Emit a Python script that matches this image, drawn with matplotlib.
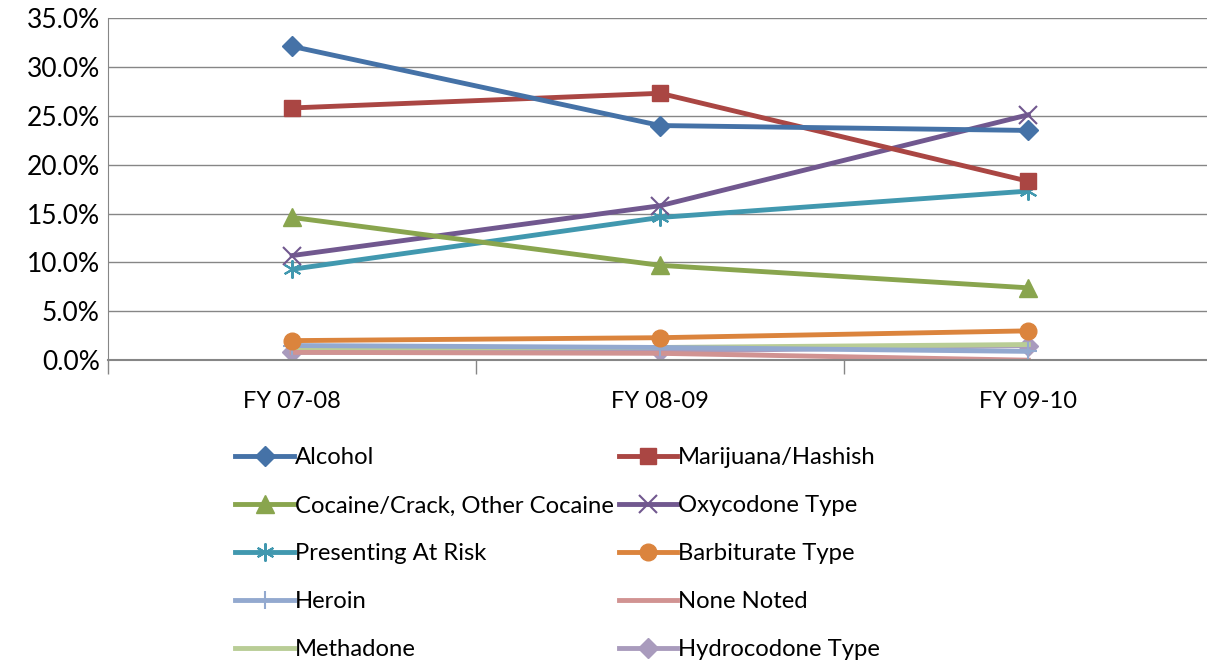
import matplotlib.pyplot as plt
from matplotlib.ticker import PercentFormatter

plt.rcParams['font.family'] = ['Lato', 'DejaVu Sans']

years = ['FY 07-08', 'FY 08-09', 'FY 09-10']

alcohol = [32.1, 24.0, 23.5]
marijuana = [25.8, 27.3, 18.3]
cocaine = [14.6, 9.7, 7.4]
oxycodone = [10.7, 15.8, 25.1]
at_risk = [9.3, 14.6, 17.3]
barbiturate = [2.0, 2.3, 3.0]
heroin = [1.5, 1.3, 0.9]
none_noted = [0.8, 0.7, 0.0]
methadone = [1.2, 1.3, 1.6]
hydrocodone = [0.8, 0.9, 1.5]

series = [
    ('Alcohol', alcohol, '#4572A7', 'D', 10),
    ('Marijuana/Hashish', marijuana, '#AA4643', 's', 11),
    ('Cocaine/Crack, Other Cocaine', cocaine, '#89A54E', '^', 13),
    ('Oxycodone Type', oxycodone, '#71588F', 'x', 13),
    ('Presenting At Risk', at_risk, '#4198AF', (6, 2, 0), 13),
    ('Barbiturate Type', barbiturate, '#DB843D', 'o', 12),
    ('Heroin', heroin, '#93A9CF', '+', 13),
    ('None Noted', none_noted, '#D19392', None, 0),
    ('Methadone', methadone, '#B9CD96', None, 0),
    ('Hydrocodone Type', hydrocodone, '#A99BBD', 'D', 10),
]

fig = plt.figure(figsize=(12.07, 6.67), dpi=100)
ax = fig.add_axes([0.0895, 0.46, 0.915, 0.513])

x = list(range(len(years)))
handles = []
# draw bottom series first so the big ones sit on top
for name, vals, color, marker, ms in reversed(series):
    mew = 1.5 if marker in ('x', '+', (6, 2, 0)) else 1
    h, = ax.plot(x, vals, color=color, lw=3.5, marker=marker, markersize=ms,
                 markeredgewidth=mew, markeredgecolor=color, label=name)
    handles.append(h)
handles = handles[::-1]

ax.set_xlim(-0.5, 2.5)
ax.set_ylim(0, 35)
ax.set_yticks([0, 5, 10, 15, 20, 25, 30, 35])
ax.yaxis.set_major_formatter(PercentFormatter(decimals=1))
ax.set_xticks(x)
ax.set_xticklabels(years)
ax.set_xticks([-0.5, 0.5, 1.5, 2.5], minor=True)
ax.tick_params(axis='x', which='major', length=0, pad=22, labelsize=17)
ax.tick_params(axis='x', which='minor', length=10, color='#868686', width=1)
ax.tick_params(axis='y', length=0, labelsize=19, pad=6)
ax.grid(axis='y', color='#868686', lw=1)
ax.set_axisbelow(True)
for s in ['top', 'right']:
    ax.spines[s].set_visible(False)
ax.spines['left'].set_color('#868686')
ax.spines['bottom'].set_color('#868686')
ax.spines['bottom'].set_linewidth(1.5)

# legend laid out row by row like the original (matplotlib fills by column)
order = [0, 2, 4, 6, 8, 1, 3, 5, 7, 9]
fig.legend([handles[i] for i in order], [series[i][0] for i in order],
           loc='upper left', bbox_to_anchor=(0.185, 0.347), ncol=2,
           frameon=False, fontsize=17.2, handlelength=2.45, handletextpad=0.05,
           columnspacing=0.2, labelspacing=1.13, borderpad=0)

fig.savefig('out.png', dpi=100)
